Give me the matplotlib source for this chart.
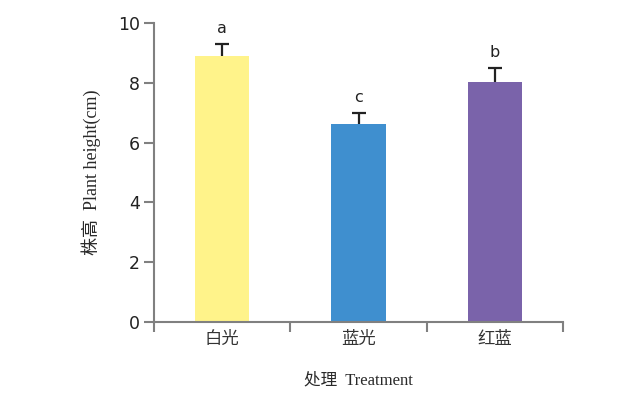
import numpy as np
import matplotlib
matplotlib.use('Agg')
from matplotlib import pyplot as plt

categories = ['白光', '蓝光', '红蓝']
heights = [8.9, 6.62, 8.03]
errors = [0.4, 0.38, 0.47]
letters = ['a', 'c', 'b']
colors = ['#FFF38A', '#3F8FCF', '#7A63AA']

cjk = ['Liberation Serif', 'Noto Sans CJK SC']

fig = plt.figure(figsize=(6.3, 3.93), dpi=100)
ax = fig.add_axes([0.2444, 0.1807, 0.6493, 0.7608])

x = np.arange(len(categories))
tops = np.array(heights) + np.array(errors)
ax.bar(x, heights, width=0.4, color=colors, zorder=2)
# only the upper half of each error bar
ax.vlines(x, heights, tops, color='#222222', lw=1.6, zorder=3)
ax.plot(x, tops, ls='none', marker='_', ms=10, mew=1.6, color='#222222', zorder=3)
for xi, t, l in zip(x, tops, letters):
    ax.text(xi, t + 0.25, l, ha='center', va='bottom', fontsize=11.5,
            family='DejaVu Sans', color='#222222')

ax.set_xlim(-0.5, 2.5)
ax.set_ylim(0, 10)
ax.set_yticks([0, 2, 4, 6, 8, 10])
ax.set_xticks([-0.5, 0.5, 1.5, 2.5])
ax.set_xticklabels([])
ax.set_xticks(x, minor=True)
ax.set_xticklabels(categories, minor=True, family=cjk, fontsize=12.5, color='#333333')
ax.tick_params(axis='x', which='minor', length=0, pad=7)
ax.tick_params(axis='x', which='major', length=7, width=1.5, color='#808080')
ax.tick_params(axis='y', length=7, width=1.5, color='#808080', labelsize=12.5,
               labelcolor='#222222', pad=3)

for s in ['top', 'right']:
    ax.spines[s].set_visible(False)
for s in ['left', 'bottom']:
    ax.spines[s].set_color('#808080')
    ax.spines[s].set_linewidth(1.5)

ax.set_ylabel('株高  Plant height(cm)', family=cjk, fontsize=13, color='#2a2a2a', labelpad=12)
ax.set_xlabel('处理  Treatment', family=cjk, fontsize=12, color='#2a2a2a', labelpad=18)

fig.savefig('out.png', dpi=100)
